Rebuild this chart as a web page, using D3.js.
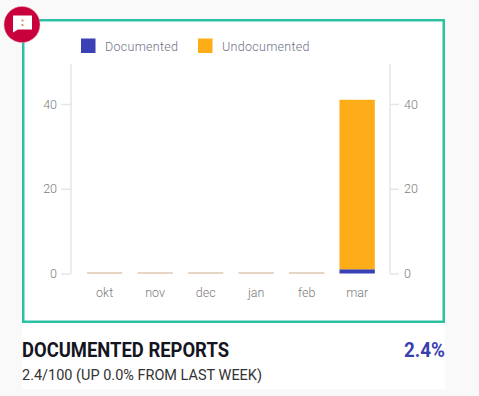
<!DOCTYPE html>
<html><head><meta charset="utf-8">
<script src="https://cdn.jsdelivr.net/npm/d3@7/dist/d3.min.js"></script>
<style>html,body{margin:0;padding:0;background:#f9f9f9}svg{display:block}text{font-family:Roboto,sans-serif}</style>
</head><body><svg id="c" width="479" height="396"></svg>
<script>
const categories = ["okt","nov","dec","jan","feb","mar"];
const documented = [0,0,0,0,0,1];
const undocumented = [0,0,0,0,0,40];
const tickValues = [0,20,40];
const legendLabels = ["Documented","Undocumented"];
const colors = ["#3a41b5","#fdad18"];
const titleText = "DOCUMENTED REPORTS";
const subtitleText = "2.4/100 (UP 0.0% FROM LAST WEEK)";
const valueText = "2.4%";

const svg = d3.select("#c");
svg.append("rect").attr("x",22).attr("y",19).attr("width",423).attr("height",370).attr("fill","#fff");
svg.append("rect").attr("x",23.25).attr("y",20.25).attr("width",420.5).attr("height",301.5)
  .attr("fill","#fff").attr("stroke","#2dc0a3").attr("stroke-width",2.5);

const x = d3.scaleBand().domain(categories).range([79.4,382.4]).paddingInner(0.3).paddingOuter(0.15);
const y = d3.scaleLinear().domain([0,40]).range([273.5,104]);
const axisColor = "#e6e6e6", textColor = "#7c7c7c";

function styleAxis(g){
  g.selectAll(".domain").remove();
  g.selectAll("line").attr("stroke",axisColor).attr("stroke-width",1.5);
  g.selectAll("text").attr("fill",textColor).attr("font-size",12.5).attr("font-weight",300);
}
const left = svg.append("g").attr("transform","translate(71,0)")
  .call(d3.axisLeft(y).tickValues(tickValues).tickSize(10).tickPadding(4)).call(styleAxis);
const right = svg.append("g").attr("transform","translate(390,0)")
  .call(d3.axisRight(y).tickValues(tickValues).tickSize(9).tickPadding(5)).call(styleAxis);
[71,390].forEach(px=>svg.append("line").attr("x1",px).attr("x2",px).attr("y1",64).attr("y2",y(0))
  .attr("stroke",axisColor).attr("stroke-width",1.5));

const bottom = svg.append("g").attr("transform",`translate(0,${y(0)})`)
  .call(d3.axisBottom(x).tickSize(0).tickPadding(15)).call(styleAxis);

const bars = svg.append("g");
categories.forEach((c,i)=>{
  const d = documented[i], u = undocumented[i];
  if(d+u===0){
    bars.append("rect").attr("x",x(c)).attr("width",x.bandwidth())
      .attr("y",y(0)-1.5).attr("height",2).attr("fill","#e8d6c4");
  } else {
    bars.append("rect").attr("x",x(c)).attr("width",x.bandwidth())
      .attr("y",y(d)).attr("height",y(0)-y(d)).attr("fill",colors[0]);
    bars.append("rect").attr("x",x(c)).attr("width",x.bandwidth())
      .attr("y",y(d+u)).attr("height",y(d)-y(d+u)).attr("fill",colors[1]);
  }
});

const legX = [81,198];
legendLabels.forEach((t,i)=>{
  svg.append("rect").attr("x",legX[i]).attr("y",38.5).attr("width",14.5).attr("height",14.5).attr("fill",colors[i]);
  svg.append("text").attr("x",legX[i]+24).attr("y",50.5).attr("font-size",12.5).attr("font-weight",300)
    .attr("letter-spacing",0.3).attr("fill","#6f7186").text(t);
});

svg.append("text").attr("x",22).attr("y",357).attr("font-size",21).attr("font-weight",700).attr("fill","#15151f")
  .attr("textLength",207).attr("lengthAdjust","spacingAndGlyphs").text(titleText);
svg.append("text").attr("x",22).attr("y",380).attr("font-size",15).attr("fill","#333")
  .attr("textLength",240).attr("lengthAdjust","spacingAndGlyphs").text(subtitleText);
svg.append("text").attr("x",404).attr("y",357).attr("font-size",21).attr("font-weight",700).attr("fill","#3a3fb0")
  .attr("textLength",41).attr("lengthAdjust","spacingAndGlyphs").text(valueText);

const icon = svg.append("g").attr("transform","translate(22,24.5)");
icon.append("circle").attr("r",18).attr("fill","#c8003c").attr("stroke","#e8a0b0").attr("stroke-width",0.5);
icon.append("path").attr("d","M-9,-9 H10 V5 H-4 L-9,8 Z").attr("fill","#fff");
icon.append("circle").attr("cx",0.5).attr("cy",-4).attr("r",1.1).attr("fill","#e87a3a");
icon.append("circle").attr("cx",0.5).attr("cy",0.5).attr("r",1.1).attr("fill","#e87a3a");
</script></body></html>
